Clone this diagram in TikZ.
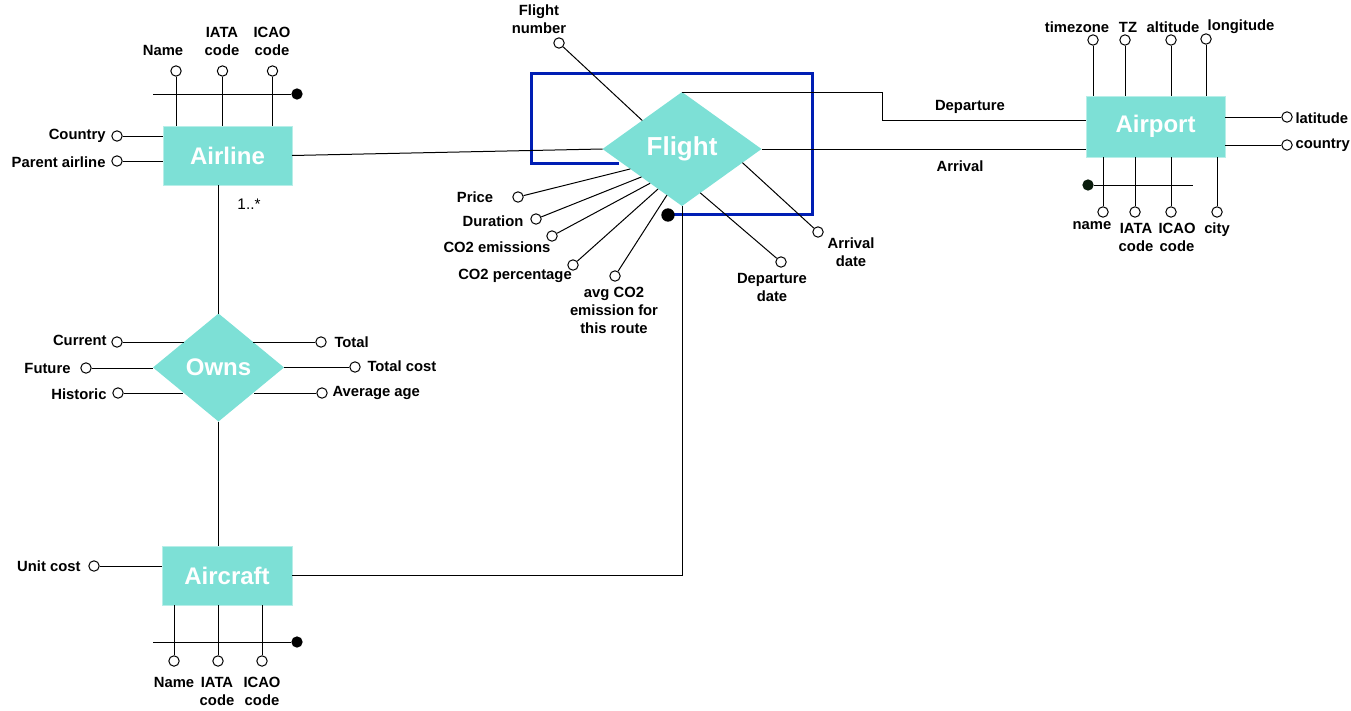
\documentclass[tikz,border=0pt]{standalone}
\usepackage{fontspec}
\setmainfont{Liberation Sans}
\usetikzlibrary{shapes.geometric,calc}
\definecolor{teal1}{RGB}{125,224,214}
\definecolor{blue1}{RGB}{0,30,180}
\definecolor{dk}{RGB}{10,28,12}
\begin{document}
\begin{tikzpicture}[x=0.75pt,y=-0.75pt,line width=0.75pt,
  ent/.style={rectangle,fill=teal1,draw=teal1!55!white,line width=0.75pt,inner sep=0pt,outer sep=0pt,text=white,font=\bfseries\fontsize{18}{20}\selectfont},
  rel/.style={diamond,fill=teal1,inner sep=0pt,outer sep=0pt,text=white,font=\bfseries\fontsize{18}{20}\selectfont},
  att/.style={circle,draw=black,fill=white,minimum size=7.8pt,inner sep=0pt,line width=0.75pt},
  kdot/.style={circle,fill=black,minimum size=8.5pt,inner sep=0pt},
  lbl/.style={font=\bfseries\fontsize{11.1}{13.5}\selectfont,inner sep=0pt,align=center},
  conn/.style={draw=black,line width=0.75pt}]
\useasboundingbox (0,0) rectangle (1351,710);

% ---------- blue frame (behind Flight) ----------
\draw[blue1,line width=2.25pt] (619,163) -- (531,163) -- (531,74) -- (812,74) -- (812,214) -- (668,214);

% ---------- main nodes ----------
\node[ent,minimum width=96.75pt,minimum height=44.25pt] (airline) at (227.5,155.5) {Airline};
\node[ent,minimum width=97.5pt,minimum height=44.25pt] (aircraft) at (227,575.5) {Aircraft};
\node[ent,minimum width=104.25pt,minimum height=45.75pt] (airport) at (1155.5,126.5) {Airport};
\node[rel,minimum width=119.25pt,minimum height=85.5pt,font=\bfseries\fontsize{19.5}{21}\selectfont] (flight) at (682,149) {Flight};
\node[rel,minimum width=98.25pt,minimum height=81pt] (owns) at (218.5,367.5) {Owns};

% ---------- main connectors ----------
\draw[conn] (airline.east) -- (flight.west);
\draw[conn] (owns.north |- airline.south) -- (owns.north);
\draw[conn] (owns.south) -- (owns.south |- aircraft.north);
\coordinate (depbend) at (882,120);
\draw[conn] (flight.north) -| (depbend) -- (depbend -| airport.west);
\draw[conn] (flight.east) -- (flight.east -| airport.west);
\draw[conn] (flight.south) |- (aircraft.east);
\node[circle,fill=black,minimum size=10pt,inner sep=0pt] (fdot) at (668,215) {};

% ---------- Airline attributes ----------
\node[att] (aN) at (176,71) {};
\node[att] (aI) at (222.5,71) {};
\node[att] (aC) at (272.5,71) {};
\node[att] (aCo) at (117,136) {};
\node[att] (aP) at (117,161) {};
\draw[conn] (aN) -- (aN |- airline.north);
\draw[conn] (aI) -- (aI |- airline.north);
\draw[conn] (aC) -- (aC |- airline.north);
\draw[conn] (aCo) -- (aCo -| airline.west);
\draw[conn] (aP) -- (aP -| airline.west);
\coordinate (ak) at (153,94);
\node[kdot] (akd) at (297,94) {};
\draw[conn] (ak) -- (akd);
\node[lbl] (lN) at (163,50) {Name};
\node[lbl] (lI) at (222,41) {IATA\\code};
\node[lbl] (lC) at (272,41) {ICAO\\code};
\node[lbl,anchor=east] (lCo) at (106,136) {Country};
\node[lbl,anchor=east] (lP) at (106,162) {Parent airline};
\node[font=\fontsize{11.5}{13}\selectfont,inner sep=0pt] (lm) at (249,204) {1..*};

% ---------- Flight attributes ----------
\node[att] (fN) at (559,43) {};
\node[att] (fPr) at (518,197) {};
\node[att] (fDu) at (536,219) {};
\node[att] (fCe) at (552,236) {};
\node[att] (fCp) at (573,265) {};
\node[att] (fAv) at (615,276) {};
\node[att] (fDd) at (781,262) {};
\node[att] (fAd) at (818,232) {};
\coordinate (eN) at ($(flight.west)!0.5!(flight.north)$);
\coordinate (ePr) at ($(flight.west)!0.35!(flight.south)$);
\coordinate (eDu) at ($(flight.west)!0.49!(flight.south)$);
\coordinate (eCe) at ($(flight.west)!0.6!(flight.south)$);
\coordinate (eCp) at ($(flight.west)!0.7!(flight.south)$);
\coordinate (eAv) at ($(flight.west)!0.81!(flight.south)$);
\coordinate (eDd) at ($(flight.south)!0.23!(flight.east)$);
\coordinate (eAd) at ($(flight.south)!0.76!(flight.east)$);
\draw[conn] (fN) -- (eN);
\draw[conn] (fPr) -- (ePr);
\draw[conn] (fDu) -- (eDu);
\draw[conn] (fCe) -- (eCe);
\draw[conn] (fCp) -- (eCp);
\draw[conn] (fAv) -- (eAv);
\draw[conn] (fDd) -- (eDd);
\draw[conn] (fAd) -- (eAd);
\node[lbl] (lfn) at (539,19) {Flight\\number};
\node[lbl] (lpr) at (475,197) {Price};
\node[lbl] (ldu) at (493,221) {Duration};
\node[lbl] (lce) at (497,247) {CO2 emissions};
\node[lbl] (lcp) at (515,276) {CO2 percentage};
\node[lbl] (lav) at (614,310) {avg CO2\\emission for\\this route};
\node[lbl] (ldd) at (772,287) {Departure\\date};
\node[lbl] (lad) at (851,252) {Arrival\\date};
\node[lbl] (ldep) at (970,107) {Departure};
\node[lbl] (larr) at (960,166) {Arrival};

% ---------- Airport attributes ----------
\node[att] (pTz) at (1093,40) {};
\node[att] (pTZ) at (1125,40) {};
\node[att] (pAl) at (1171,40) {};
\node[att] (pLo) at (1206,39) {};
\node[att] (pLa) at (1287,117) {};
\node[att] (pCo) at (1287,145) {};
\node[att] (pNa) at (1103,212) {};
\node[att] (pIA) at (1135,212) {};
\node[att] (pIC) at (1171,212) {};
\node[att] (pCi) at (1217,212) {};
\draw[conn] (pTz) -- (pTz |- airport.north);
\draw[conn] (pTZ) -- (pTZ |- airport.north);
\draw[conn] (pAl) -- (pAl |- airport.north);
\draw[conn] (pLo) -- (pLo |- airport.north);
\draw[conn] (pLa) -- (pLa -| airport.east);
\draw[conn] (pCo) -- (pCo -| airport.east);
\draw[conn] (pNa) -- (pNa |- airport.south);
\draw[conn] (pIA) -- (pIA |- airport.south);
\draw[conn] (pIC) -- (pIC |- airport.south);
\draw[conn] (pCi) -- (pCi |- airport.south);
\coordinate (pk) at (1193,185);
\node[kdot,fill=dk] (pkd) at (1088,185) {};
\draw[conn] (pkd) -- (pk);
\node[lbl] (lTz) at (1077,27) {timezone};
\node[lbl] (lTZ) at (1128,27) {TZ};
\node[lbl] (lAl) at (1173,27) {altitude};
\node[lbl] (lLo) at (1241,27) {longitude};
\node[lbl,anchor=west] (lLa) at (1295,118) {latitude};
\node[lbl,anchor=west] (lCoP) at (1295,145) {country};
\node[lbl] (lNa) at (1092,226) {name};
\node[lbl] (lIA) at (1136,237) {IATA\\code};
\node[lbl] (lIC) at (1177,237) {ICAO\\code};
\node[lbl] (lCi) at (1217,230) {city};

% ---------- Owns attributes ----------
\node[att] (oCu) at (117,342) {};
\node[att] (oFu) at (86,368) {};
\node[att] (oHi) at (118,393) {};
\node[att] (oTo) at (321,342) {};
\node[att] (oTc) at (355,367) {};
\node[att] (oAa) at (322,393) {};
\coordinate (eCu) at ($(owns.west)!0.48!(owns.north)$);
\coordinate (eHi) at ($(owns.west)!0.46!(owns.south)$);
\coordinate (eTo) at ($(owns.east)!0.48!(owns.north)$);
\coordinate (eAa) at ($(owns.east)!0.46!(owns.south)$);
\draw[conn] (oCu) -- (oCu -| eCu);
\draw[conn] (oFu) -- (oFu -| owns.west);
\draw[conn] (oHi) -- (oHi -| eHi);
\draw[conn] (oTo) -- (oTo -| eTo);
\draw[conn] (oTc) -- (oTc -| owns.east);
\draw[conn] (oAa) -- (oAa -| eAa);
\node[lbl,anchor=east] (lCu) at (107,340) {Current};
\node[lbl,anchor=east] (lFu) at (71,368) {Future};
\node[lbl,anchor=east] (lHi) at (107,394) {Historic};
\node[lbl,anchor=west] (lTo) at (334,342) {Total};
\node[lbl,anchor=west] (lTc) at (367,366) {Total cost};
\node[lbl,anchor=west] (lAa) at (332,393) {Average age};

% ---------- Aircraft attributes ----------
\node[att] (cUc) at (94,566) {};
\node[att] (cNa) at (174,661) {};
\node[att] (cIA) at (218,661) {};
\node[att] (cIC) at (262,661) {};
\draw[conn] (cUc) -- (cUc -| aircraft.west);
\draw[conn] (cNa) -- (cNa |- aircraft.south);
\draw[conn] (cIA) -- (cIA |- aircraft.south);
\draw[conn] (cIC) -- (cIC |- aircraft.south);
\coordinate (ck) at (153,642);
\node[kdot] (ckd) at (297,642) {};
\draw[conn] (ck) -- (ckd);
\node[lbl,anchor=east] (lUc) at (81,566) {Unit cost};
\node[lbl] (lcNa) at (174,682) {Name};
\node[lbl] (lcIA) at (217,691) {IATA\\code};
\node[lbl] (lcIC) at (262,691) {ICAO\\code};
\end{tikzpicture}
\end{document}
